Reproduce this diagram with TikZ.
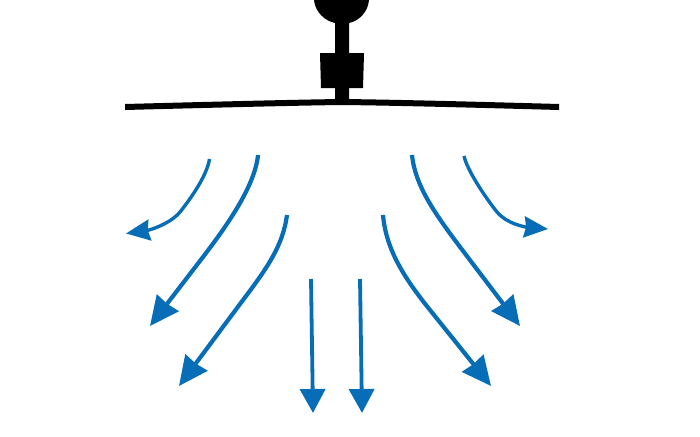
\documentclass[tikz,border=0pt]{standalone}
\usepackage{xcolor}
\usetikzlibrary{arrows.meta}
\definecolor{flowblue}{RGB}{7,109,182}
\tikzset{
    flow/.style={draw=flowblue,line width=4.2pt,-{Stealth[length=29pt,width=27pt,inset=1pt]}},
    flowstraight/.style={draw=flowblue,line width=3.8pt,-{Stealth[length=24pt,width=25pt,inset=0pt]}},
    flowsmall/.style={draw=flowblue,line width=3.4pt,-{Stealth[length=24pt,width=21pt,inset=2pt]}},
    fixture/.style={fill=black,draw=none},
}
\begin{document}
\begin{tikzpicture}[x=1pt,y=-1pt]
\useasboundingbox (0,0) rectangle (700,436);
% Ceiling bar and mount
\path[fixture] (125,104) .. controls (220,101.5) and (300,99.5) .. (342,99)
    .. controls (390,99.5) and (470,101.5) .. (559,104)
    -- (559,110) .. controls (470,107.5) and (390,105.5) .. (342,105)
    .. controls (300,105.5) and (220,107.5) .. (125,110) -- cycle;
\path[fixture] (335,102) -- (335,88) -- (321,88) -- (320,53) -- (335,53) -- (335,23)
    .. controls (325,21) and (315,12) .. (314,0) -- (369,0)
    .. controls (368,12) and (359,21) .. (349,23)
    -- (349,53) -- (364,53) -- (363,88) -- (349,88) -- (349,102) -- cycle;
% Left side
\draw[flowsmall] (209.5,159) .. controls (207,175) and (192,197) .. (180,212)
    .. controls (170,224) and (150,230) .. (126,233.5);
\draw[flow] (258,155) .. controls (255,185) and (229,223) .. (203,257) -- (150,326);
\draw[flow] (287,215) .. controls (283,245) and (268,267) .. (243,300) -- (179,386);
% Middle
\draw[flowstraight] (311,279) -- (313,413);
\draw[flowstraight] (360,279) -- (362,413);
% Right side
\draw[flowsmall] (464,156) .. controls (467,170) and (485,197) .. (497,212)
    .. controls (507,224) and (525,227) .. (548,229);
\draw[flow] (412,155) .. controls (415,185) and (434,212) .. (457,243) -- (520,326);
\draw[flow] (383,215) .. controls (386,250) and (405,279) .. (430,310) -- (491,386);
\end{tikzpicture}
\end{document}
